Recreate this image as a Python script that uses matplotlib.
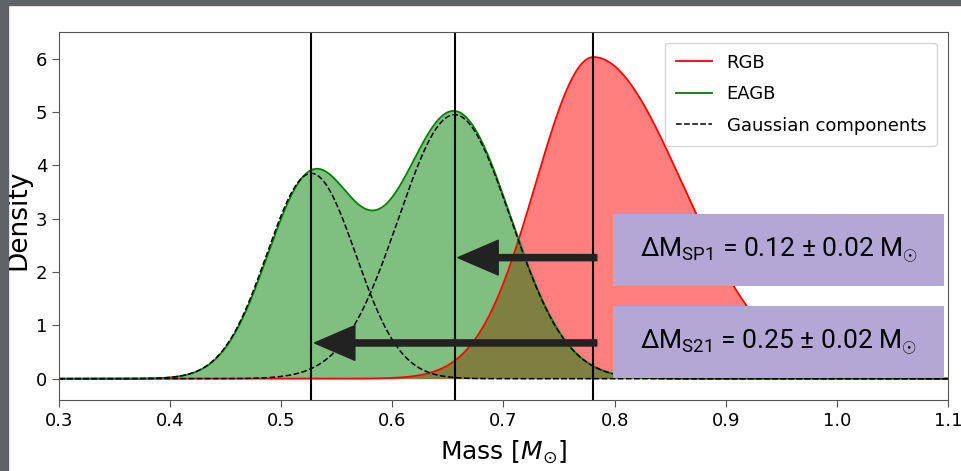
import numpy as np
import matplotlib.pyplot as plt
from matplotlib.patches import Rectangle

# fitted EAGB gaussian components (mean, sigma, peak density)
eagb_mu = [0.527, 0.656]
eagb_sigma = [0.040, 0.0505]
eagb_peak = [3.85, 4.95]
# EAGB density curve (drawn as a two-peak mixture)
eagb_curve_peak = [3.72, 5.0]

# RGB mass distribution (mode, peak, left / right widths)
rgb_mode = 0.781
rgb_peak = 6.03
rgb_sigma = [0.052, 0.080]

# mass differences shown in the boxes
labels = [r'ΔM$_{\mathrm{SP1}}$ = 0.12 ± 0.02 M$_{\odot}$',
          r'ΔM$_{\mathrm{S21}}$ = 0.25 ± 0.02 M$_{\odot}$']
arrow_y = [2.27, 0.67]

plt.rcParams['font.family'] = 'DejaVu Sans'
plt.rcParams['mathtext.rm'] = 'Roboto'
plt.rcParams['mathtext.it'] = 'Roboto:italic'
plt.rcParams['mathtext.bf'] = 'Roboto:bold'

x = np.linspace(0.3, 1.1, 2000)

comps = [p * np.exp(-(x - m) ** 2 / (2 * s ** 2))
         for m, s, p in zip(eagb_mu, eagb_sigma, eagb_peak)]
eagb = sum(p * np.exp(-(x - m) ** 2 / (2 * s ** 2))
           for m, s, p in zip(eagb_mu, eagb_sigma, eagb_curve_peak))

sig = np.where(x < rgb_mode, rgb_sigma[0], rgb_sigma[1])
rgb = rgb_peak * np.exp(-(x - rgb_mode) ** 2 / (2 * sig ** 2))

fig = plt.figure(figsize=(9.61, 4.71), dpi=100)
ax = fig.add_axes([0.0614, 0.1507, 0.925, 0.7813])

ax.fill_between(x, rgb, color='red', alpha=0.5, lw=0)
ax.plot(x, rgb, color='red', lw=1.3, label='RGB')
ax.fill_between(x, eagb, color='green', alpha=0.5, lw=0)
ax.plot(x, eagb, color='green', lw=1.3, label='EAGB')
ax.plot(x, comps[0], 'k--', lw=1.1, label='Gaussian components')
ax.plot(x, comps[1], 'k--', lw=1.1)

for m in eagb_mu + [rgb_mode]:
    ax.axvline(m, color='black', lw=1.5)

# arrows from the RGB mode to each EAGB component
for m, yv in zip(eagb_mu[::-1], arrow_y):
    ax.annotate('', xy=(m + 0.003, yv), xytext=(rgb_mode + 0.003, yv),
                arrowprops=dict(arrowstyle='simple,tail_width=0.22,head_width=1.25,head_length=1.45',
                                mutation_scale=20, color='#222222',
                                shrinkA=0, shrinkB=0), zorder=5)

# purple boxes
box_y = [(1.74, 3.08), (0.02, 1.36)]
for (y0, y1), txt in zip(box_y, labels):
    ax.add_patch(Rectangle((0.7987, y0), 0.298, y1 - y0, color='#b3a7d6',
                           zorder=6, lw=0))
    ax.text(0.7987 + 0.149, (y0 + y1) / 2, txt, ha='center', va='center',
            fontsize=19, family='Roboto', math_fontfamily='custom', zorder=7)

ax.set_xlim(0.3, 1.1)
ax.set_ylim(-0.4, 6.5)
ax.set_xticks(np.arange(0.3, 1.101, 0.1))
ax.tick_params(labelsize=13, length=5, color='#555555')
for s in ax.spines.values():
    s.set_color('#555555')
ax.set_xlabel(r'Mass [$M_{\odot}$]', fontsize=18, labelpad=6)
ax.set_ylabel('Density', fontsize=19)
ax.yaxis.set_label_coords(-0.031, 0.49)

ax.legend(loc='upper right', fontsize=13, handlelength=2,
          labelspacing=0.75, borderpad=0.6, borderaxespad=0.6)

# screenshot border
fig.patches.append(Rectangle((0, 0), 8 / 961, 1, transform=fig.transFigure,
                             color='#5f6368', zorder=0))
fig.patches.append(Rectangle((0, 1 - 5 / 471), 1, 5 / 471,
                             transform=fig.transFigure, color='#5f6368', zorder=0))

fig.savefig('out.png', dpi=100)
